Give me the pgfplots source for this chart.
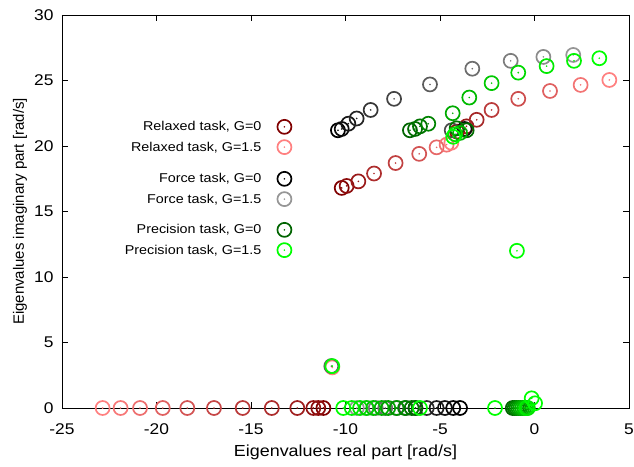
\documentclass[border=0pt]{standalone}
\usepackage{pgfplots}
\pgfplotsset{compat=1.18}
\usepackage{fontspec}
\setmainfont{Liberation Sans}[FakeStretch=1.12]
\newfontfamily\plainsans{Liberation Sans}
\definecolor{relA}{RGB}{128,0,0}
\definecolor{relB}{RGB}{255,128,128}
\definecolor{forA}{RGB}{0,0,0}
\definecolor{forB}{RGB}{150,150,150}
\definecolor{preA}{RGB}{0,100,0}
\definecolor{preB}{RGB}{0,255,0}
\pgfplotsset{
  colormap={relaxed}{rgb255=(128,0,0) rgb255=(255,128,128)},
  colormap={force}{rgb255=(0,0,0) rgb255=(150,150,150)},
  colormap={precision}{rgb255=(0,100,0) rgb255=(0,255,0)},
}
\pgfdeclareplotmark{cdot}{%
  \pgfpathcircle{\pgfpointorigin}{\pgfplotmarksize}\pgfusepathqstroke
  \pgfpathcircle{\pgfpointorigin}{0.9pt}\pgfusepathqfill}

\pgfplotstableread{
x y t
-10.2 16.8 0
-9.94 16.95 0.1
-9.32 17.3 0.2
-8.49 17.9 0.35
-7.35 18.7 0.5
-6.1 19.4 0.65
-5.18 19.9 0.8
-4.65 20.1 0.9
-4.4 20.25 1.0
-4.1 21.1 0.1
-3.6 21.5 0.2
-3.06 22.0 0.3
-2.27 22.75 0.45
-0.86 23.6 0.6
0.82 24.2 0.75
2.44 24.66 0.9
3.96 25.04 1.0
-10.7 3.1 1.0
-11.17 0 0
-11.44 0 0.1
-11.7 0 0.15
-12.55 0 0.25
-13.9 0 0.35
-15.44 0 0.45
-16.96 0 0.55
-18.37 0 0.65
-19.67 0 0.75
-20.87 0 0.85
-21.9 0 0.93
-22.85 0 1.0
}\relaxed

\pgfplotstableread{
x y t
-10.4 21.2 0
-10.2 21.3 0.08
-9.85 21.7 0.16
-9.41 22.1 0.25
-8.67 22.75 0.35
-7.43 23.6 0.45
-5.53 24.7 0.6
-3.29 25.9 0.72
-1.26 26.5 0.83
0.47 26.8 0.92
2.05 26.95 1.0
-4.38 21.2 0.5
-3.7 21.3 0.1
-10.75 3.2 0.6
-9.4 0 1
-8.9 0 0.9
-8.4 0 0.8
-7.9 0 0.7
-7.3 0 0.6
-6.8 0 0.5
-6.3 0 0.4
-5.7 0 0.3
-5.18 0 0.2
-4.74 0 0.12
-4.3 0 0.05
-3.94 0 0
}\force

\pgfplotstableread{
x y t
-6.59 21.2 0
-6.32 21.3 0.05
-6.06 21.5 0.1
-5.62 21.7 0.2
-4.33 22.5 0.45
-3.45 23.7 0.55
-2.27 24.8 0.65
-0.86 25.6 0.75
0.64 26.1 0.85
2.09 26.5 0.93
3.43 26.7 1.0
-4.12 21.35 0.1
-3.59 21.2 0.05
-3.94 21.0 0.5
-4.2 20.9 0.8
-4.3 20.7 1.0
-0.93 12.0 1.0
-10.7 3.2 1.0
-10.12 0 1
-9.67 0 0.9
-9.23 0 0.8
-8.88 0 0.7
-8.53 0 0.6
-8.09 0 0.5
-7.74 0 0.4
-7.29 0 0.3
-6.85 0 0.2
-6.5 0 0.1
-6.3 0 0
-6.06 0 1.0
-2.09 0 1.0
-1.15 0 0
-1.05 0 0.1
-0.95 0 0.2
-0.85 0 0.3
-0.75 0 0.4
-0.65 0 0.5
-0.55 0 0.6
-0.45 0 0.7
-0.41 0 0.9
-0.35 0 0.8
-0.15 0.74 1
0.03 0.36 1
}\precision

\begin{document}
\begin{tikzpicture}
\path[use as bounding box] (-62pt,-58pt) rectangle (572pt,408pt);
\pgfplotsset{
  sc/.style={scatter, only marks, mark=cdot, mark size=7pt, line width=1.7pt,
    point meta=explicit, point meta min=0, point meta max=1,
    scatter/use mapped color={draw=mapped color, fill=mapped color}},
  leg/.style={at={(0,0)}, anchor=south west, scale only axis, width=567pt, height=393pt,
    hide axis, xmin=0, xmax=1, ymin=0, ymax=1,
    legend plot pos=right, legend cell align=right,
    legend style={draw=none, fill=none, anchor=east, font=\fontsize{12.8}{14.5}\selectfont,
      row sep=5.5pt, inner sep=0pt, /tikz/every odd column/.append style={column sep=14pt}}},
}
\begin{axis}[
  at={(0,0)}, anchor=south west, scale only axis,
  width=567pt, height=393pt,
  xmin=-25, xmax=5, ymin=0, ymax=30,
  xtick={-25,-20,...,5}, ytick={0,5,...,30},
  tick align=inside, major tick length=6pt,
  axis line style={black, line width=0.8pt},
  every tick/.style={black, line width=0.8pt},
  /pgf/number format/assume math mode=true,
  tick label style={font=\fontsize{15.5}{17}\selectfont},
  xticklabel style={yshift=-12pt},
  yticklabel style={xshift=-5pt},
  xlabel={Eigenvalues real part [rad/s]},
  ylabel={Eigenvalues imaginary part [rad/s]},
  xlabel style={font=\fontsize{16}{18}\selectfont, at={(axis description cs:0.5,-0.112)}, anchor=center},
  ylabel style={font=\plainsans\fontsize{15}{17}\selectfont, at={(axis description cs:-0.074,0.5)}, anchor=center},
  clip=false,
]
\addplot[sc, colormap name=relaxed] table[x=x, y=y, meta=t] {\relaxed};
\addplot[sc, colormap name=force] table[x=x, y=y, meta=t] {\force};
\addplot[sc, colormap name=precision] table[x=x, y=y, meta=t] {\precision};
\end{axis}
\begin{axis}[leg, legend style={at={(0.405,0.6896)}}]
\addlegendimage{only marks, mark=cdot, mark size=7pt, color=relA, mark options={line width=1.7pt}}
\addlegendentry{Relaxed task, G=0}
\addlegendimage{only marks, mark=cdot, mark size=7pt, color=relB, mark options={line width=1.7pt}}
\addlegendentry{Relaxed task, G=1.5}
\end{axis}
\begin{axis}[leg, legend style={at={(0.405,0.5573)}}]
\addlegendimage{only marks, mark=cdot, mark size=7pt, color=forA, mark options={line width=1.7pt}}
\addlegendentry{Force task, G=0}
\addlegendimage{only marks, mark=cdot, mark size=7pt, color=forB, mark options={line width=1.7pt}}
\addlegendentry{Force task, G=1.5}
\end{axis}
\begin{axis}[leg, legend style={at={(0.405,0.4275)}}]
\addlegendimage{only marks, mark=cdot, mark size=7pt, color=preA, mark options={line width=1.7pt}}
\addlegendentry{Precision task, G=0}
\addlegendimage{only marks, mark=cdot, mark size=7pt, color=preB, mark options={line width=1.7pt}}
\addlegendentry{Precision task, G=1.5}
\end{axis}
\end{tikzpicture}
\end{document}
